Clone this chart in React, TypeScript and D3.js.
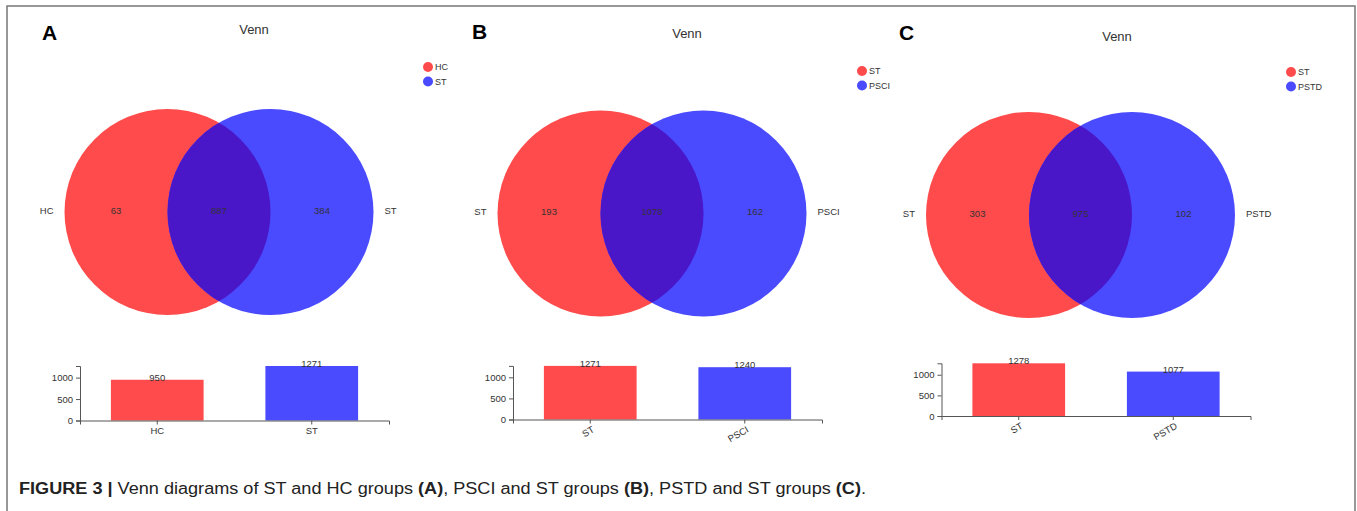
import React, { useEffect, useRef } from 'react'
import * as d3 from 'd3'

// values
const panelLetters = ['A', 'B', 'C']
const setNames = [
  ['HC', 'ST'],
  ['ST', 'PSCI'],
  ['ST', 'PSTD']
]
const onlyLeft = [63, 193, 303]
const shared = [887, 1078, 975]
const onlyRight = [384, 162, 102]
const setTotals = [
  [950, 1271],
  [1271, 1240],
  [1278, 1077]
]
const yTickValues = [0, 500, 1000]

const RED = '#ff4b4b'
const BLUE = '#4a4aff'
const BOTH = '#4a17c8'
const INK = '#333'
const FONT = "'Liberation Sans', Arial, Helvetica, sans-serif"

// layout per panel (pixels)
const layouts = [
  { letterX: 42, letterY: 40, titleX: 254, titleY: 34, legendX: 428, legendY: 67, cx: 167.5, cy: 212, barX: 80, barZero: 420.5, barH: 54.5, rotate: false },
  { letterX: 472, letterY: 39, titleX: 687, titleY: 38, legendX: 862, legendY: 71, cx: 600.5, cy: 213.5, barX: 513, barZero: 419.5, barH: 53.6, rotate: true },
  { letterX: 899, letterY: 40, titleX: 1117, titleY: 41, legendX: 1291, legendY: 72, cx: 1029, cy: 215, barX: 941.5, barZero: 416, barH: 52.7, rotate: true }
]
const R = 103
const BAR_W = 309

function Panel({ i }: { i: number }) {
  const L = layouts[i]
  const names = setNames[i]
  const totals = setTotals[i]
  const xRef = useRef<SVGGElement>(null)
  const yRef = useRef<SVGGElement>(null)

  const x = d3
    .scaleBand()
    .domain(names)
    .range([L.barX, L.barX + BAR_W])
    .paddingInner(0.4)
    .paddingOuter(0.2)
  const y = d3
    .scaleLinear()
    .domain([0, d3.max(totals) as number])
    .range([L.barZero, L.barZero - L.barH])

  useEffect(() => {
    const gx = d3.select(xRef.current as SVGGElement)
    gx.call(d3.axisBottom(x).tickSizeInner(4).tickSizeOuter(4))
    gx.selectAll('path, line').attr('stroke', '#555')
    gx.selectAll('text')
      .attr('fill', INK)
      .attr('font-size', 9.5)
      .attr('font-family', FONT)
    if (L.rotate) {
      gx.selectAll('text')
        .attr('x', 0)
        .attr('y', 0)
        .attr('dy', '0.35em')
        .attr('text-anchor', 'end')
        .attr('transform', 'translate(3,9) rotate(-30)')
    }
    const gy = d3.select(yRef.current as SVGGElement)
    gy.call(
      d3
        .axisLeft(y)
        .tickValues(yTickValues)
        .tickFormat(d3.format('d'))
        .tickSizeInner(4)
        .tickSizeOuter(4)
    )
    gy.selectAll('path, line').attr('stroke', '#555')
    gy.selectAll('text')
      .attr('fill', INK)
      .attr('font-size', 9.5)
      .attr('font-family', FONT)
  })

  const cxL = L.cx
  const cxR = L.cx + R
  const clipId = `clip-${i}`
  const ty = L.cy - 1.5

  return (
    <g fontFamily={FONT}>
      <text x={L.letterX} y={L.letterY} fontSize={21} fontWeight="bold" fill="#000">
        {panelLetters[i]}
      </text>
      <text x={L.titleX} y={L.titleY} fontSize={13} fill={INK} textAnchor="middle">
        Venn
      </text>

      {names.map((n, k) => (
        <g key={n} transform={`translate(${L.legendX},${L.legendY + k * 14.5})`}>
          <circle r={5} fill={k === 0 ? RED : BLUE} />
          <text x={7} dy="0.35em" fontSize={9} fill={INK}>
            {n}
          </text>
        </g>
      ))}

      <defs>
        <clipPath id={clipId}>
          <circle cx={cxL} cy={L.cy} r={R} />
        </clipPath>
      </defs>
      <circle cx={cxL} cy={L.cy} r={R} fill={RED} />
      <circle cx={cxR} cy={L.cy} r={R} fill={BLUE} />
      <circle cx={cxR} cy={L.cy} r={R} fill={BOTH} clipPath={`url(#${clipId})`} />

      <g fontSize={9.5} fill={INK} textAnchor="middle">
        <text x={(cxL - R + cxR - R) / 2} y={ty} dy="0.35em">{onlyLeft[i]}</text>
        <text x={(cxR - R + cxL + R) / 2} y={ty} dy="0.35em">{shared[i]}</text>
        <text x={(cxL + R + cxR + R) / 2} y={ty} dy="0.35em">{onlyRight[i]}</text>
      </g>
      <text x={cxL - R - 11} y={ty} dy="0.35em" fontSize={9.5} fill={INK} textAnchor="end">
        {names[0]}
      </text>
      <text x={cxR + R + 11} y={ty} dy="0.35em" fontSize={9.5} fill={INK}>
        {names[1]}
      </text>

      {names.map((n, k) => (
        <g key={n}>
          <rect
            x={x(n)}
            y={y(totals[k])}
            width={x.bandwidth()}
            height={L.barZero - y(totals[k])}
            fill={k === 0 ? RED : BLUE}
          />
          <text
            x={(x(n) as number) + x.bandwidth() / 2}
            y={y(totals[k]) + 1}
            fontSize={9.5}
            fill={INK}
            textAnchor="middle"
          >
            {totals[k]}
          </text>
        </g>
      ))}
      <g ref={xRef} transform={`translate(0,${L.barZero})`} />
      <g ref={yRef} transform={`translate(${L.barX},0)`} />
    </g>
  )
}

export default function App() {
  return (
    <svg
      width={1357}
      height={511}
      style={{ position: 'absolute', left: 0, top: 0, background: '#fff' }}
    >
      <rect x={7} y={6} width={1348} height={520} fill="none" stroke="#777" strokeWidth={1.5} />
      {panelLetters.map((_, i) => (
        <Panel key={i} i={i} />
      ))}
      <text
        x={19}
        y={494}
        fontSize={16}
        fill="#222"
        fontFamily="'Liberation Sans Narrow', 'Arial Narrow', 'Liberation Sans', sans-serif"
        textLength={847}
        lengthAdjust="spacingAndGlyphs"
      >
        <tspan fontWeight="bold">FIGURE 3 |</tspan>
        <tspan> Venn diagrams of ST and HC groups </tspan>
        <tspan fontWeight="bold">(A)</tspan>
        <tspan>, PSCI and ST groups </tspan>
        <tspan fontWeight="bold">(B)</tspan>
        <tspan>, PSTD and ST groups </tspan>
        <tspan fontWeight="bold">(C)</tspan>
        <tspan>.</tspan>
      </text>
    </svg>
  )
}
